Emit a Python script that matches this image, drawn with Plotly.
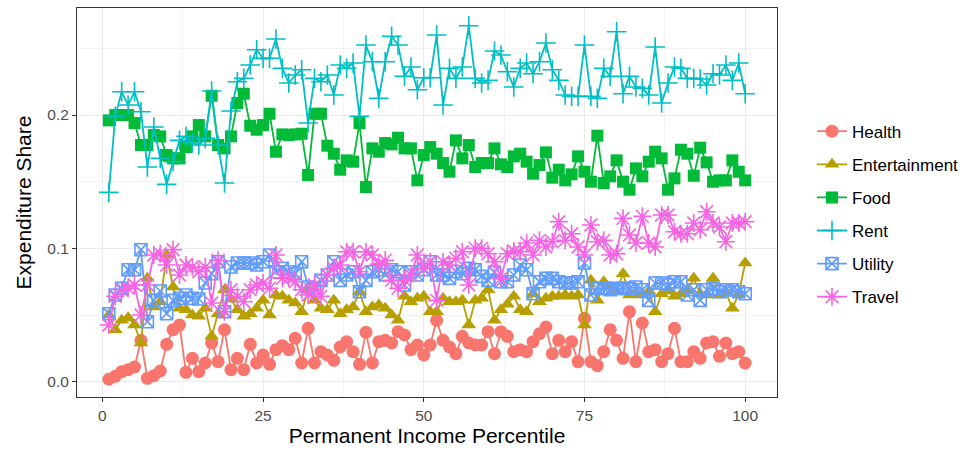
import plotly.graph_objects as go

percentile = list(range(1, 101))

health = [0.0018, 0.004, 0.0075, 0.009, 0.011, 0.031, 0.0025, 0.0045, 0.008, 0.028,
          0.039, 0.0425, 0.007, 0.0175, 0.0075, 0.014, 0.029, 0.015, 0.039, 0.009,
          0.0175, 0.009, 0.028, 0.014, 0.02, 0.013, 0.024, 0.027, 0.024, 0.0325,
          0.014, 0.04, 0.014, 0.0225, 0.02, 0.016, 0.026, 0.03, 0.0225, 0.013,
          0.037, 0.014, 0.03, 0.031, 0.029, 0.0375, 0.035, 0.024, 0.0275, 0.02,
          0.0275, 0.046, 0.031, 0.026, 0.021, 0.034, 0.029, 0.0275, 0.0275, 0.0375,
          0.021, 0.0375, 0.034, 0.0225, 0.024, 0.0225, 0.03, 0.036, 0.041, 0.021,
          0.031, 0.0225, 0.03, 0.015, 0.0475, 0.015, 0.012, 0.0225, 0.039, 0.031,
          0.0175, 0.0525, 0.015, 0.044, 0.0225, 0.024, 0.015, 0.021, 0.04, 0.015,
          0.015, 0.0225, 0.0175, 0.029, 0.03, 0.019, 0.029, 0.021, 0.0225, 0.014]

entertainment = [0.05, 0.039, 0.046, 0.048, 0.0425, 0.029, 0.0775, 0.056, 0.06, 0.095,
                 0.071, 0.055, 0.054, 0.05, 0.049, 0.055, 0.034, 0.051, 0.069, 0.062,
                 0.054, 0.049, 0.051, 0.055, 0.061, 0.05, 0.065, 0.064, 0.061, 0.059,
                 0.0525, 0.069, 0.061, 0.055, 0.054, 0.061, 0.051, 0.054, 0.056, 0.0675,
                 0.0525, 0.056, 0.0575, 0.055, 0.05, 0.046, 0.064, 0.06, 0.0625, 0.064,
                 0.0525, 0.0525, 0.0625, 0.06, 0.06, 0.061, 0.0425, 0.061, 0.0625, 0.069,
                 0.046, 0.054, 0.058, 0.064, 0.054, 0.0525, 0.066, 0.06, 0.0625, 0.064,
                 0.064, 0.065, 0.064, 0.065, 0.0425, 0.076, 0.061, 0.075, 0.071, 0.0675,
                 0.081, 0.065, 0.066, 0.065, 0.068, 0.0525, 0.066, 0.068, 0.064, 0.066,
                 0.068, 0.0775, 0.066, 0.065, 0.0775, 0.065, 0.067, 0.055, 0.066, 0.089]

food = [0.196, 0.2, 0.2, 0.2, 0.194, 0.1775, 0.1775, 0.185, 0.184, 0.17,
        0.1675, 0.1675, 0.176, 0.184, 0.1925, 0.184, 0.2145, 0.1775, 0.175, 0.184,
        0.209, 0.216, 0.192, 0.189, 0.1925, 0.201, 0.1725, 0.1855, 0.185, 0.1855,
        0.186, 0.155, 0.201, 0.201, 0.177, 0.171, 0.159, 0.166, 0.165, 0.194,
        0.146, 0.175, 0.1725, 0.179, 0.178, 0.183, 0.175, 0.175, 0.151, 0.17,
        0.176, 0.171, 0.164, 0.1575, 0.181, 0.1675, 0.1775, 0.161, 0.164, 0.164,
        0.175, 0.163, 0.161, 0.169, 0.171, 0.165, 0.156, 0.1625, 0.172, 0.153,
        0.159, 0.151, 0.1555, 0.169, 0.1575, 0.15, 0.1845, 0.149, 0.154, 0.166,
        0.15, 0.144, 0.16, 0.154, 0.165, 0.1725, 0.1675, 0.144, 0.1525, 0.174,
        0.171, 0.1545, 0.1755, 0.1645, 0.15, 0.151, 0.151, 0.166, 0.1575, 0.151]

rent = [0.142, 0.199, 0.2175, 0.2075, 0.2175, 0.2025, 0.161, 0.191, 0.1675, 0.148,
        0.165, 0.181, 0.184, 0.179, 0.1775, 0.1825, 0.218, 0.1775, 0.149, 0.203,
        0.225, 0.2275, 0.2375, 0.249, 0.2425, 0.2425, 0.257, 0.235, 0.224, 0.23,
        0.234, 0.194, 0.2275, 0.225, 0.23, 0.215, 0.2375, 0.235, 0.239, 0.199,
        0.2525, 0.24, 0.2125, 0.24, 0.259, 0.2525, 0.229, 0.236, 0.219, 0.228,
        0.228, 0.26, 0.2075, 0.235, 0.2275, 0.236, 0.267, 0.2275, 0.224, 0.226,
        0.248, 0.245, 0.2325, 0.221, 0.235, 0.239, 0.231, 0.24, 0.254, 0.234,
        0.226, 0.215, 0.214, 0.214, 0.2525, 0.214, 0.2125, 0.235, 0.229, 0.2625,
        0.216, 0.229, 0.221, 0.22, 0.215, 0.251, 0.209, 0.224, 0.236, 0.235,
        0.2275, 0.2275, 0.227, 0.2225, 0.231, 0.23, 0.2375, 0.226, 0.239, 0.216]

utility = [0.051, 0.065, 0.07, 0.084, 0.084, 0.099, 0.045, 0.061, 0.068, 0.051,
           0.061, 0.0625, 0.065, 0.0625, 0.062, 0.074, 0.081, 0.09, 0.0525, 0.086,
           0.089, 0.089, 0.089, 0.0875, 0.09, 0.095, 0.0825, 0.085, 0.0825, 0.081,
           0.09, 0.071, 0.07, 0.076, 0.08, 0.09, 0.076, 0.08, 0.0825, 0.0675,
           0.076, 0.0825, 0.084, 0.08, 0.084, 0.0825, 0.0725, 0.0825, 0.08, 0.084,
           0.09, 0.08, 0.08, 0.0775, 0.0825, 0.081, 0.085, 0.084, 0.079, 0.076,
           0.082, 0.075, 0.075, 0.08, 0.0875, 0.084, 0.066, 0.075, 0.0775, 0.0775,
           0.075, 0.074, 0.074, 0.075, 0.089, 0.065, 0.07, 0.07, 0.069, 0.07,
           0.07, 0.07, 0.071, 0.069, 0.061, 0.074, 0.074, 0.0725, 0.075, 0.075,
           0.065, 0.069, 0.061, 0.069, 0.07, 0.0675, 0.069, 0.069, 0.0675, 0.066]

travel = [0.0425, 0.064, 0.069, 0.07, 0.0725, 0.05, 0.0725, 0.095, 0.096, 0.0875,
          0.099, 0.08, 0.0875, 0.086, 0.0825, 0.086, 0.059, 0.091, 0.0525, 0.069,
          0.064, 0.06, 0.069, 0.0725, 0.074, 0.07, 0.095, 0.0775, 0.078, 0.075,
          0.069, 0.065, 0.0725, 0.064, 0.08, 0.085, 0.0875, 0.0975, 0.0975, 0.0825,
          0.0975, 0.095, 0.088, 0.091, 0.076, 0.07, 0.076, 0.08, 0.095, 0.085,
          0.09, 0.061, 0.09, 0.0875, 0.0925, 0.0975, 0.0725, 0.1, 0.1, 0.096,
          0.09, 0.0775, 0.096, 0.098, 0.0975, 0.104, 0.095, 0.106, 0.101, 0.105,
          0.12, 0.106, 0.111, 0.101, 0.095, 0.1175, 0.105, 0.106, 0.095, 0.096,
          0.1225, 0.11, 0.104, 0.124, 0.104, 0.101, 0.125, 0.125, 0.1125, 0.111,
          0.111, 0.119, 0.114, 0.1275, 0.119, 0.116, 0.105, 0.119, 0.119, 0.12]

series_names = ["Health", "Entertainment", "Food", "Rent", "Utility", "Travel"]
series_values = [health, entertainment, food, rent, utility, travel]
colors = ["#F8766D", "#B79F00", "#00BA38", "#00BFC4", "#619CFF", "#F564E3"]
symbols = ["circle", "triangle-up", "square", "cross-thin-open", "square-x-open", "asterisk-open"]
sizes = [13, 13, 12, 14, 12, 15]

fig = go.Figure()
for name, vals, col, sym, sz in zip(series_names, series_values, colors, symbols, sizes):
    open_sym = sym.endswith("open")
    fig.add_trace(go.Scatter(
        x=percentile, y=vals, name=name, mode="lines+markers",
        legendgroup=name,
        line=dict(color=col, width=1.8),
        marker=dict(symbol=sym, size=sz, color=col,
                    line=dict(color=col, width=1.6 if open_sym else 0)),
    ))

grid_major = "#EBEBEB"
fig.update_layout(
    width=964, height=453,
    margin=dict(l=77, r=187, t=8, b=56, autoexpand=False),
    paper_bgcolor="white", plot_bgcolor="white",
    font=dict(family="Liberation Sans, Arial, sans-serif", color="#000000"),
    showlegend=True,
    legend=dict(x=1.05, xanchor="left", y=0.47, yanchor="middle",
                font=dict(size=17, color="#000000"), tracegroupgap=8,
                itemwidth=30, bgcolor="rgba(0,0,0,0)"),
    xaxis=dict(range=[-3.95, 104.95], tickmode="linear", tick0=0, dtick=25,
               showgrid=True, gridcolor=grid_major, gridwidth=1.1,
               minor=dict(dtick=12.5, tick0=0, showgrid=True, gridcolor="#F3F3F3", gridwidth=0.6, ticks=""),
               zeroline=False, showline=True, linecolor="#333333", linewidth=1, mirror=True,
               ticks="outside", ticklen=4, tickcolor="#333333", tickwidth=1,
               tickfont=dict(size=15.5, color="#4D4D4D"),
               title=dict(text="Permanent Income Percentile", font=dict(size=21), standoff=4)),
    yaxis=dict(range=[-0.0115, 0.2803], tickmode="array", tickvals=[0.0, 0.1, 0.2],
               ticktext=["0.0", "0.1", "0.2"],
               showgrid=True, gridcolor=grid_major, gridwidth=1.1,
               minor=dict(tickvals=[0.05, 0.15, 0.25], showgrid=True, gridcolor="#F3F3F3", gridwidth=0.6, ticks=""),
               zeroline=False, showline=True, linecolor="#333333", linewidth=1, mirror=True,
               ticks="outside", ticklen=4, tickcolor="#333333", tickwidth=1,
               tickfont=dict(size=15.5, color="#4D4D4D"),
               title=dict(text="Expenditure Share", font=dict(size=21), standoff=9)),
)

fig.write_html("out.html")
